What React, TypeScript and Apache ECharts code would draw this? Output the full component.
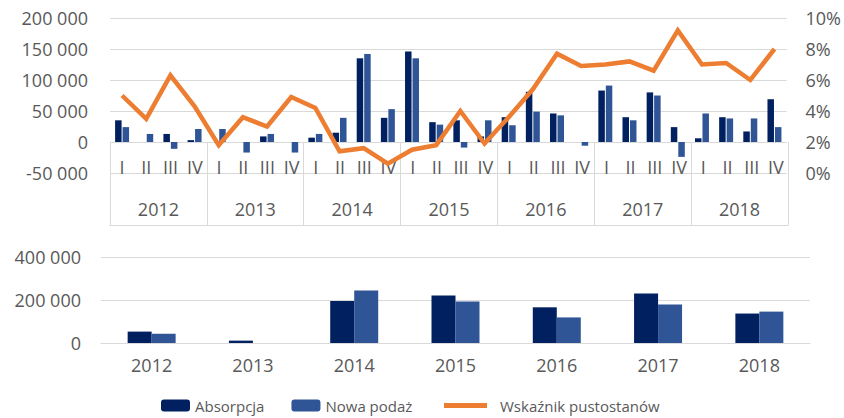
import React, { useEffect, useRef } from "react";
import * as echarts from "echarts";

const years = ["2012", "2013", "2014", "2015", "2016", "2017", "2018"];
const quarterNames = ["I", "II", "III", "IV"];
const quarters = years.flatMap((y) => quarterNames.map((q) => `${q}\n${y}`));

const absorpcjaQ = [
  35000, 0, 13000, 3000,
  0, 0, 9000, 0,
  7000, 15000, 135000, 39000,
  146000, 32000, 35000, 9000,
  40000, 81000, 46000, 0,
  83000, 40000, 80000, 24000,
  6000, 40000, 17000, 69000,
];
const nowaPodazQ = [
  24000, 13000, -11000, 21000,
  21000, -17000, 13000, -17000,
  13000, 39000, 142000, 53000,
  135000, 28000, -9000, 35000,
  27000, 49000, 43000, -6000,
  91000, 35000, 75000, -24000,
  46000, 38000, 38000, 24000,
];
const pustostanyQ = [
  5.0, 3.5, 6.3, 4.3,
  1.8, 3.6, 3.0, 4.9,
  4.2, 1.4, 1.6, 0.6,
  1.5, 1.8, 4.0, 1.9,
  3.6, 5.4, 7.7, 6.9,
  7.0, 7.2, 6.6, 9.2,
  7.0, 7.1, 6.0, 8.0,
];
const absorpcjaY = [53000, 11000, 195000, 221000, 166000, 230000, 137000];
const nowaPodazY = [43000, -1500, 244000, 193000, 119000, 179000, 146000];

const DARK = "#002060";
const BLUE = "#2F5597";
const ORANGE = "#ED7D31";
const GRID = "#D9D9D9";
const TEXT = "#595959";
const FONT = "'Open Sans', sans-serif";

const fmt = (v: number) => String(v).replace(/\B(?=(\d{3})+(?!\d))/g, " ");

export default function App() {
  const ref = useRef<HTMLDivElement>(null);
  useEffect(() => {
    if (!ref.current) return;
    const chart = echarts.init(ref.current, undefined, { renderer: "svg" });
    chart.setOption({
      animation: false,
      textStyle: { fontFamily: FONT, color: TEXT },
      grid: [
        { left: 110, right: 56, top: 18, height: 155 },
        { left: 110, right: 56, top: 142, height: 83 },
        { left: 101, right: 34, top: 257, height: 86 },
      ],
      xAxis: [
        {
          type: "category",
          gridIndex: 0,
          data: quarters,
          axisLine: { show: false },
          axisTick: { show: false },
          axisLabel: { show: false },
          splitLine: { show: false },
        },
        {
          type: "category",
          gridIndex: 1,
          data: quarters,
          position: "top",
          axisLine: { show: true, lineStyle: { color: GRID, width: 1 } },
          axisTick: { show: false },
          axisLabel: {
            inside: true,
            interval: 0,
            margin: 16,
            color: TEXT,
            fontSize: 18,
            fontFamily: FONT,
            formatter: (v: string) => v.split("\n")[0],
          },
          splitLine: { show: false },
        },
        {
          type: "category",
          gridIndex: 1,
          data: years,
          position: "bottom",
          axisLine: { show: false },
          axisTick: { show: false },
          axisLabel: { interval: 0, margin: -25, color: TEXT, fontSize: 18, fontFamily: FONT },
          splitLine: { show: true, interval: 0, lineStyle: { color: GRID, width: 1 } },
        },
        {
          type: "category",
          gridIndex: 2,
          data: years,
          axisLine: { show: true, lineStyle: { color: GRID, width: 1 } },
          axisTick: { show: false },
          axisLabel: { interval: 0, margin: 13, color: TEXT, fontSize: 18, fontFamily: FONT },
        },
      ],
      yAxis: [
        {
          type: "value",
          gridIndex: 0,
          min: -50000,
          max: 200000,
          interval: 50000,
          axisLabel: { margin: 22, color: TEXT, fontSize: 18, fontFamily: FONT, formatter: fmt },
          splitLine: { lineStyle: { color: GRID, width: 1 } },
          axisLine: { show: false },
        },
        {
          type: "value",
          gridIndex: 0,
          position: "right",
          min: 0,
          max: 10,
          interval: 2,
          axisLabel: { margin: 19, color: TEXT, fontSize: 18, fontFamily: FONT, formatter: "{value}%" },
          splitLine: { show: false },
          axisLine: { show: false },
        },
        {
          type: "value",
          gridIndex: 1,
          show: false,
          min: 0,
          max: 1,
        },
        {
          type: "value",
          gridIndex: 2,
          min: 0,
          max: 400000,
          interval: 200000,
          axisLabel: { margin: 20, color: TEXT, fontSize: 18, fontFamily: FONT, formatter: fmt },
          splitLine: { lineStyle: { color: GRID, width: 1 } },
          axisLine: { show: false },
        },
      ],
      legend: [
        {
          left: 156,
          top: 393,
          itemWidth: 29,
          itemHeight: 12,
          itemGap: 27,
          data: ["Absorpcja", "Nowa podaż"],
          textStyle: { color: TEXT, fontSize: 15, fontFamily: FONT },
        },
        {
          left: 439,
          top: 393,
          itemWidth: 43,
          itemHeight: 5,
          data: [{ name: "Wskaźnik pustostanów", icon: "rect", itemStyle: { color: ORANGE } }],
          textStyle: { color: TEXT, fontSize: 15, fontFamily: FONT, padding: [0, 0, 0, 8] },
        },
      ],
      series: [
        {
          name: "Absorpcja",
          type: "bar",
          xAxisIndex: 0,
          yAxisIndex: 0,
          data: absorpcjaQ,
          barWidth: 6.5,
          barGap: "15%",
          itemStyle: { color: DARK },
        },
        {
          name: "Nowa podaż",
          type: "bar",
          xAxisIndex: 0,
          yAxisIndex: 0,
          data: nowaPodazQ,
          barWidth: 6.5,
          barGap: "15%",
          itemStyle: { color: BLUE },
        },
        {
          name: "Wskaźnik pustostanów",
          type: "line",
          xAxisIndex: 0,
          yAxisIndex: 1,
          data: pustostanyQ,
          symbol: "none",
          z: 5,
          lineStyle: { color: ORANGE, width: 4.5, join: "miter" },
          itemStyle: { color: ORANGE },
        },
        {
          name: "Absorpcja",
          type: "bar",
          xAxisIndex: 3,
          yAxisIndex: 3,
          data: absorpcjaY,
          barWidth: 24,
          barGap: "0%",
          itemStyle: { color: DARK },
        },
        {
          name: "Nowa podaż",
          type: "bar",
          xAxisIndex: 3,
          yAxisIndex: 3,
          data: nowaPodazY,
          barWidth: 24,
          barGap: "0%",
          itemStyle: { color: BLUE },
        },
      ],
    });
    return () => chart.dispose();
  }, []);
  return (
    <div
      ref={ref}
      style={{ position: "fixed", left: 0, top: 0, width: 844, height: 418, background: "#fff" }}
    />
  );
}
